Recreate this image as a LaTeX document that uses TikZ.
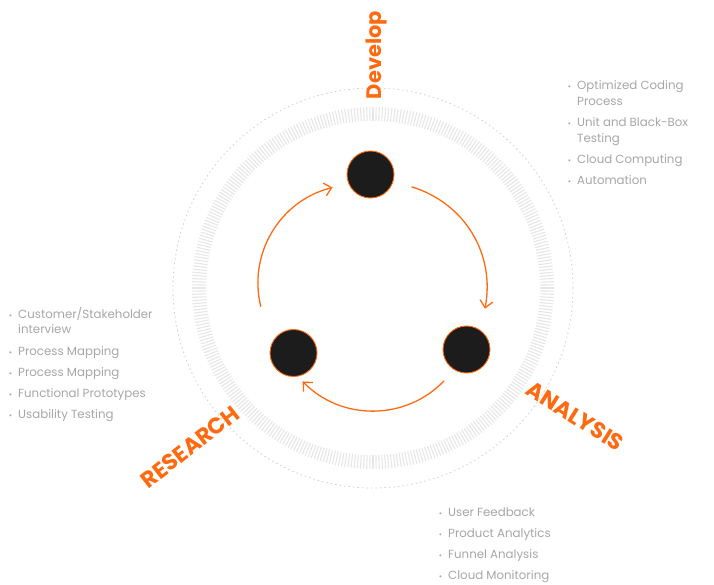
\documentclass[tikz,border=0pt]{standalone}
\usepackage{fontspec}
\setmainfont{Poppins}
\usetikzlibrary{arrows.meta,positioning,calc}

\definecolor{accent}{HTML}{FF6A10}
\definecolor{listgray}{HTML}{A6A6A6}
\definecolor{tickgray}{HTML}{E6E6E6}
\definecolor{ringdot}{HTML}{CFCFCF}
\definecolor{stagefill}{HTML}{1C1C1C}

\tikzset{
  stage/.style={circle,fill=stagefill,draw=accent,line width=0.9pt,minimum size=47pt,inner sep=0pt},
  flow/.style={accent,line width=1.3pt,-{Straight Barb[length=7pt,width=13pt]}},
  phase/.style={text=accent,inner sep=0pt,font=\fontsize{21}{24}\selectfont\bfseries},
  item/.style={text=listgray,font=\fontsize{11.8}{16}\selectfont,align=left,anchor=base west,inner sep=0pt},
}
\newcommand\dotitem{\makebox[0pt][r]{\fontsize{8}{8}\selectfont\textbullet\hspace{6pt}}}

\begin{document}
\begin{tikzpicture}[x=1pt,y=1pt]
  \useasboundingbox (0,0) rectangle (714,584);

  % Ringe
  \coordinate (ring) at (373,296);
  \draw[ringdot,line width=0.8pt,dash pattern=on 1.5pt off 3pt] (ring) circle[radius=200];
  \foreach \a in {0,...,359} {
    \draw[tickgray,line width=1.1pt] ($(ring)+(\a:167)$) -- ($(ring)+(\a:181)$);
  }

  % Phasen
  \node[stage] (develop) at (370.5,409.5) {};
  \node[stage] (research) at (293.5,231) {};
  \node[stage] (analysis) at (466.5,234.5) {};

  % Pfeile
  \coordinate (hub) at (373,291);
  \coordinate (r-out) at ($(hub)+(187:113)$);
  \coordinate (d-in) at ($(hub)+(111:113)$);
  \coordinate (d-out) at ($(hub)+(70:113)$);
  \coordinate (a-in) at ($(hub)+(-8:113)$);
  \coordinate (a-out) at ($(hub)+(-51:113)$);
  \coordinate (r-in) at ($(hub)+(-128.5:113)$);
  \draw[flow] (r-out) to[bend left=45] (d-in);
  \draw[flow] (d-out) to[bend left=42] (a-in);
  \draw[flow] (a-out) to[bend left=46] (r-in);

  % Beschriftungen
  \node[phase,rotate=90] (develop-label) at (377,529) {Develop};
  \node[phase,rotate=38,font=\fontsize{22.5}{26}\selectfont\bfseries] (research-label) at (190,137) {RESEARCH};
  \node[phase,rotate=-32,font=\fontsize{22.5}{26}\selectfont\bfseries] (analysis-label) at (575,168) {ANALYSIS};

  % Listen
  \node[item] (dev-1) at (577,478) {\dotitem Optimized Coding\\Process};
  \node[item] (dev-2) at (577,441) {\dotitem Unit and Black-Box\\Testing};
  \node[item] (dev-3) at (577,420) {\dotitem Cloud Computing};
  \node[item] (dev-4) at (577,399) {\dotitem Automation};

  \node[item] (res-1) at (18,250) {\dotitem Customer/Stakeholder\\interview};
  \node[item] (res-2) at (18,229) {\dotitem Process Mapping};
  \node[item] (res-3) at (18,208) {\dotitem Process Mapping};
  \node[item] (res-4) at (18,187) {\dotitem Functional Prototypes};
  \node[item] (res-5) at (18,166) {\dotitem Usability Testing};

  \node[item] (ana-1) at (448,68) {\dotitem User Feedback};
  \node[item] (ana-2) at (448,47) {\dotitem Product Analytics};
  \node[item] (ana-3) at (448,26) {\dotitem Funnel Analysis};
  \node[item] (ana-4) at (448,5) {\dotitem Cloud Monitoring};
\end{tikzpicture}
\end{document}
